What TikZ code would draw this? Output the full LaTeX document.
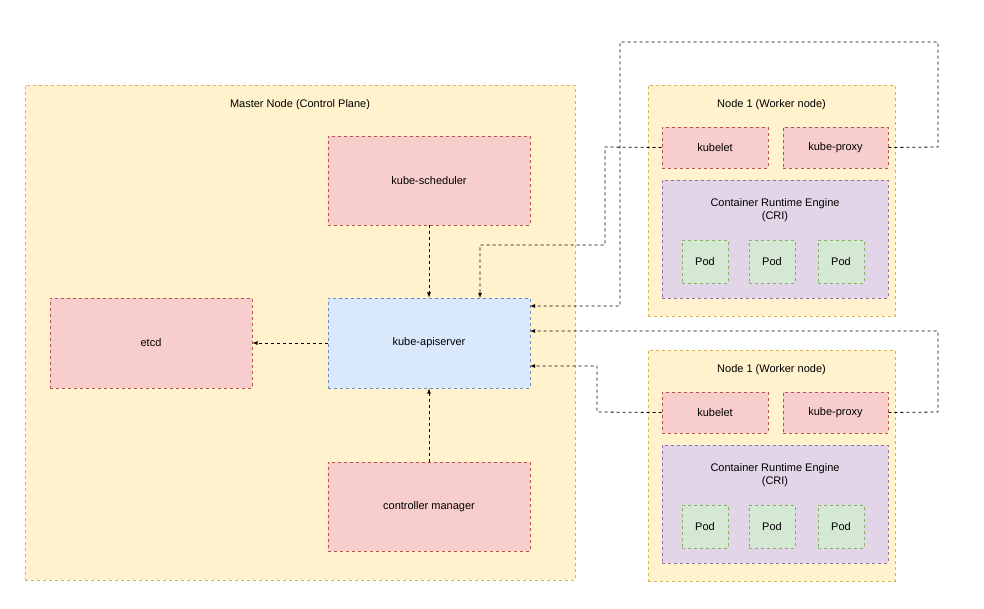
\documentclass[tikz,border=0pt]{standalone}
\usepackage{fontspec}
\setmainfont{Liberation Sans}
\usetikzlibrary{positioning}
\definecolor{ylwfill}{HTML}{FFF2CC}
\definecolor{ylwline}{HTML}{D6B656}
\definecolor{redfill}{HTML}{F8CECC}
\definecolor{redline}{HTML}{B85450}
\definecolor{bluefill}{HTML}{DAE8FC}
\definecolor{blueline}{HTML}{6C8EBF}
\definecolor{purfill}{HTML}{E1D5E7}
\definecolor{purline}{HTML}{9673A6}
\definecolor{grnfill}{HTML}{D5E8D4}
\definecolor{grnline}{HTML}{82B366}
\tikzset{
  box/.style = {draw, dashed, line width=0.8pt, inner sep=0pt, align=center, font=\fontsize{11}{13}\selectfont},
  area/.style = {box, fill=ylwfill, draw=ylwline},
  comp/.style = {box, fill=redfill, draw=redline},
  api/.style = {box, fill=bluefill, draw=blueline},
  cri/.style = {box, fill=purfill, draw=purline},
  pod/.style = {box, fill=grnfill, draw=grnline, minimum width=46pt, minimum height=43pt},
  link/.style = {dashed, line width=0.8pt, -latex},
}
\begin{document}
\begin{tikzpicture}[x=1pt, y=-1pt]
\useasboundingbox (0,0) rectangle (984,608);
% master
\node [area, minimum width=550pt, minimum height=495pt] (master) at (300,332.5) {};
\node [font=\fontsize{11}{13}\selectfont] (mtitle) at (300,105) {Master Node (Control Plane)};
\node [comp, minimum width=202pt, minimum height=89pt] (sched) at (429,180.5) {kube-scheduler};
\node [api, minimum width=202pt, minimum height=90pt] (apis) at (429,343) {kube-apiserver};
\node [comp, minimum width=202pt, minimum height=90pt] (etcd) at (151,343) {etcd};
\node [comp, minimum width=202pt, minimum height=89pt] (ctrl) at (429,506.5) {controller manager};
% workers
\foreach \n/\dy in {1/0, 2/265}{
  \node [area, minimum width=247pt, minimum height=231pt] (w\n) at (771.5,200.5+\dy) {};
  \node [font=\fontsize{11}{13}\selectfont] (wt\n) at (771.5,105+\dy) {Node 1 (Worker node)};
  \node [comp, minimum width=106pt, minimum height=41pt] (klet\n) at (715,147.5+\dy) {kubelet};
  \node [comp, minimum width=105pt, minimum height=41pt] (kprox\n) at (835.5,147.5+\dy) {kube-proxy};
  \node [cri, minimum width=226pt, minimum height=118pt] (cri\n) at (775,239+\dy) {};
  \node [align=center, font=\fontsize{11}{13}\selectfont] (crit\n) at (775,210+\dy) {Container Runtime Engine\\(CRI)};
  \node [pod] (pa\n) at (705,261.5+\dy) {Pod};
  \node [pod] (pb\n) at (772,261.5+\dy) {Pod};
  \node [pod] (pc\n) at (841,261.5+\dy) {Pod};
}
% connectors
\draw [link] (sched) -- (apis);
\draw [link] (ctrl) -- (apis);
\draw [link] (apis) -- (etcd);
\coordinate (in1) at (480,298);
\coordinate (in2) at (530,306);
\coordinate (in3) at (530,331);
\coordinate (in4) at (530,366);
\draw [link] (klet1.west) -- (605,147) -- (605,245) -- (480,245) -- (in1);
\draw [link] (kprox1.east) -- (938,147) -- (938,42) -- (620,42) -- (620,306) -- (in2);
\draw [link] (kprox2.east) -- (938,412) -- (938,331) -- (in3);
\draw [link] (klet2.west) -- (597,412) -- (597,366) -- (in4);
\end{tikzpicture}
\end{document}
